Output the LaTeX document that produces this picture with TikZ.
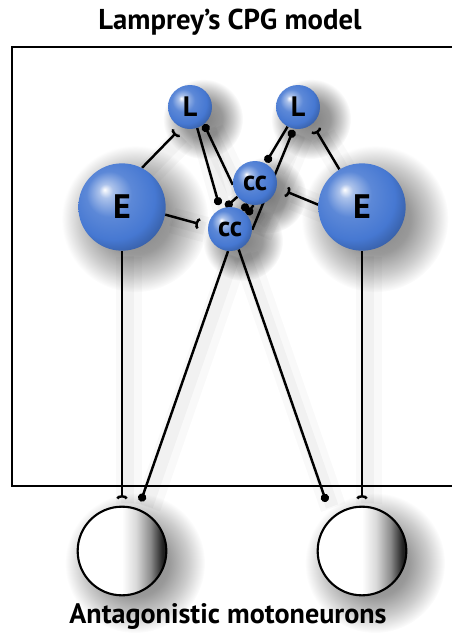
\documentclass[tikz,border=0pt]{standalone}
\usepackage{fontspec}
\setmainfont{PT Sans}
\usetikzlibrary{arrows.meta, fadings}

\definecolor{cpgblue}{RGB}{70,120,210}
% sphere, highlight upper left
\pgfdeclareradialshading{cpgball}{\pgfpoint{-10bp}{10bp}}{color(0bp)=(white); color(4bp)=(cpgblue!45!white); color(13bp)=(cpgblue!88!white); color(24bp)=(cpgblue); color(34bp)=(cpgblue!70!black); color(50bp)=(cpgblue!70!black)}
% motoneuron, dark on the right
\pgfdeclarehorizontalshading{mnshade}{100bp}{color(0bp)=(white); color(50bp)=(white); color(58bp)=(black!15); color(66bp)=(black!45); color(73bp)=(black!88); color(100bp)=(black!88)}
% soft drop shadow
\pgfdeclareradialshading{shadowmask}{\pgfpointorigin}{color(0bp)=(pgftransparent!50); color(12bp)=(pgftransparent!60); color(19bp)=(pgftransparent!80); color(25bp)=(pgftransparent!100); color(50bp)=(pgftransparent!100)}
\pgfdeclarefading{softshadow}{\pgfuseshading{shadowmask}}

\pgfdeclarelayer{shadow}
\pgfdeclarelayer{background}
\pgfsetlayers{shadow,background,main}

\begin{document}
\begin{tikzpicture}[x=0.03cm, y=-0.03cm,
    cell/.style={circle, shade, shading=cpgball, inner sep=0pt},
    small/.style={cell, minimum size=1.32cm, font=\fontsize{24}{24}\selectfont\bfseries},
    big/.style={cell, minimum size=2.62cm, font=\fontsize{29}{30}\selectfont\bfseries},
    motor/.style={circle, draw, line width=1.8pt, shade, shading=mnshade, minimum size=2.66cm},
    lineshadow/.style={preaction={draw=black, -, line width=22pt, opacity=0.025, transform canvas={shift={(6pt,-5pt)}}},
        preaction={draw=black, -, line width=11pt, opacity=0.03, transform canvas={shift={(5pt,-4pt)}}}},
    exc/.style={lineshadow, -{Arc Barb[reversed, length=3pt, width=10pt]}, line width=2.1pt},
    inh/.style={lineshadow, -{Circle[length=7pt]}, line width=2.1pt}
]
\useasboundingbox (0,0) rectangle (452,635);

% Labels
\node[font=\fontsize{24.5}{26}\selectfont\bfseries] (title) at (230,22) {Lamprey's CPG model};
\node[font=\fontsize{24}{26}\selectfont\bfseries] (caption) at (228,616) {Antagonistic motoneurons};

% Cells
\node[small] (Ll) at (190,107) {L};
\node[small] (Lr) at (298,107) {L};
\node[small] (ccu) at (255,183) {cc};
\node[small] (ccl) at (230,229) {cc};
\node[big] (El) at (122,207) {E};
\node[big] (Er) at (362,207) {E};
\node[motor] (MNl) at (122,551) {};
\node[motor] (MNr) at (362,551) {};

% Frame, open on the right
\draw[line width=2.5pt] (452,47) -| (12,486) -- (452,486);

% Shadows
\begin{pgfonlayer}{shadow}
\foreach \n/\r in {El/2.2, Er/2.2, Ll/1.2, Lr/1.2, ccu/1.15, ccl/1.2, MNl/2.1, MNr/2.1}
  \fill[black, path fading=softshadow] ([shift={(13,12)}]\n.center) circle (\r cm);
\end{pgfonlayer}

\begin{pgfonlayer}{background}
% excitatory
\draw[exc, shorten >=6pt] (El.63) -- (Ll.247);
\draw[exc, shorten >=8pt] (El.350) -- (ccl.173);
\draw[exc, shorten >=6pt] (Er.121) -- (Lr.310);
\draw[exc, shorten >=9pt] (Er.177) -- (ccu.348);
\draw[exc, shorten >=6pt] (El.270) -- (MNl.90);
\draw[exc, shorten >=6pt] (Er.270) -- (MNr.90);
% inhibitory
\draw[inh, shorten >=3.5pt] (Ll.289) -- (ccl.116);
\draw[inh] (ccu.185) -- (Ll.309);
\draw[inh, shorten >=1pt] (Lr.242) -- (ccu.62);
\draw[inh, shorten >=1pt] (ccl.358) -- (Lr.259);
\draw[inh] (ccu.218) -- (ccl.101);
\draw[inh] (ccu.250) -- (ccl.55);
\draw[inh] (ccu.266) -- (ccl.40);
\draw[inh, shorten >=6.5pt] (ccl.265) -- (MNl.69);
\draw[inh, shorten >=14pt] (ccl.293) -- (MNr.132);
\end{pgfonlayer}

\end{tikzpicture}
\end{document}
